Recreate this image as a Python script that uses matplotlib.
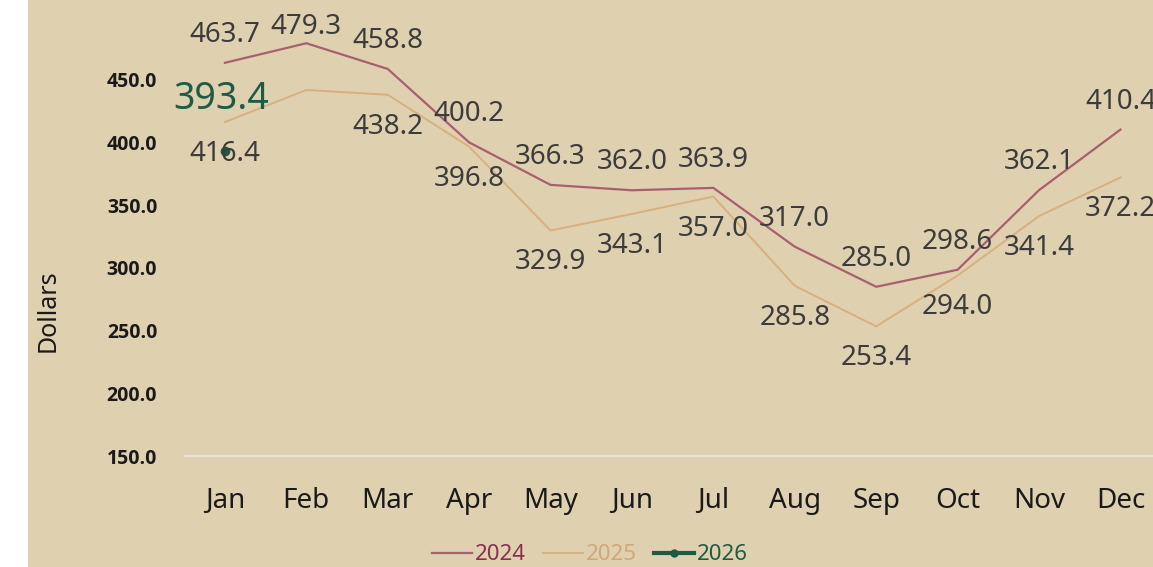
import matplotlib
matplotlib.use("Agg")
import matplotlib.pyplot as plt
from matplotlib.lines import Line2D
from matplotlib.patches import Rectangle

# Datos
meses = ["Jan", "Feb", "Mar", "Apr", "May", "Jun", "Jul", "Aug", "Sep", "Oct", "Nov", "Dec"]
valores_2024 = [463.7, 479.3, 458.8, 400.2, 366.3, 362.0, 363.9, 317.0, 285.0, 298.6, 362.1, 410.4]
valores_2025 = [416.4, 442.0, 438.2, 396.8, 329.9, 343.1, 357.0, 285.8, 253.4, 294.0, 341.4, 372.2]
etiquetas_2025 = [True, False, True, True, True, True, True, True, True, True, True, True]
valores_2026 = [393.4]
ticks_y = [150, 200, 250, 300, 350, 400, 450]

fondo = "#dfd0b0"
color_2024 = "#a8606e"
color_2025 = "#d8b07e"
color_2026 = "#1f5a45"
color_texto = "#3c3c3c"

plt.rcParams['font.family'] = ['Noto Sans', 'DejaVu Sans']

fig = plt.figure(figsize=(11.53, 5.67), dpi=100, facecolor=fondo)
fig.patches.append(Rectangle((0, 0), 28 / 1153, 1, transform=fig.transFigure,
                             facecolor="white", edgecolor="none", zorder=0))

ax = fig.add_axes([185 / 1153, 111 / 567, 1 - 185 / 1153, 456 / 567])
ax.set_facecolor(fondo)

x = list(range(len(meses)))
ax.plot(x, valores_2024, color=color_2024, linewidth=1.6, zorder=3)
ax.plot(x, valores_2025, color=color_2025, linewidth=1.4, zorder=2)
ax.plot(x[:len(valores_2026)], valores_2026, color=color_2026, marker="o",
        markersize=6, linewidth=2.5, zorder=4)

# Etiquetas de valores (las de diciembre quedan cortadas como en el original)
for i, v in enumerate(valores_2024):
    ax.text(i, min(v + 22.3, 492.3), f"{v:.1f}", ha="center", va="center",
            fontsize=20, color=color_texto, zorder=5, clip_on=False)
for i, v in enumerate(valores_2025):
    if etiquetas_2025[i]:
        ax.text(i, v - 25.5, f"{v:.1f}", ha="center", va="center",
                fontsize=20, color=color_texto, zorder=5, clip_on=False)
for i, v in enumerate(valores_2026):
    ax.text(i - 0.04, v + 41.5, f"{v:.1f}", ha="center", va="center",
            fontsize=27, color=color_2026, zorder=5, clip_on=False)

ax.set_xlim(-0.49, 11.4)
ax.set_ylim(150, 513.8)
ax.set_xticks(x)
ax.set_xticklabels(meses, fontsize=20, color="#1a1a1a")
ax.set_yticks(ticks_y)
ax.set_yticklabels([f"{t:.1f}" for t in ticks_y], fontsize=14, fontweight="bold",
                   family=["Open Sans", "DejaVu Sans"], color="#1a1a1a")
ax.tick_params(axis="both", length=0)
ax.tick_params(axis="x", pad=22)
ax.tick_params(axis="y", pad=20)

for lado in ["top", "right", "left"]:
    ax.spines[lado].set_visible(False)
ax.spines["bottom"].set_color("#e6e2d8")
ax.spines["bottom"].set_linewidth(1.5)

fig.text(48 / 1153, 1 - 311 / 567, "Dollars", rotation=90, ha="center", va="center",
         fontsize=18, color="#1a1a1a")

# Leyenda
handles = [
    Line2D([], [], color=color_2024, linewidth=1.6),
    Line2D([], [], color=color_2025, linewidth=1.4),
    Line2D([], [], color=color_2026, linewidth=3, marker="o", markersize=5),
]
leg = fig.legend(handles, ["2024", "2025", "2026"], loc="center",
                 bbox_to_anchor=(590 / 1153, 12 / 567), ncol=3, frameon=False,
                 fontsize=16, handlelength=1.8, handletextpad=0.1, columnspacing=0.8)
for texto, c in zip(leg.get_texts(), ["#8b2f50", "#d0a878", color_2026]):
    texto.set_color(c)

fig.savefig("out.png", dpi=100, facecolor=fondo)
